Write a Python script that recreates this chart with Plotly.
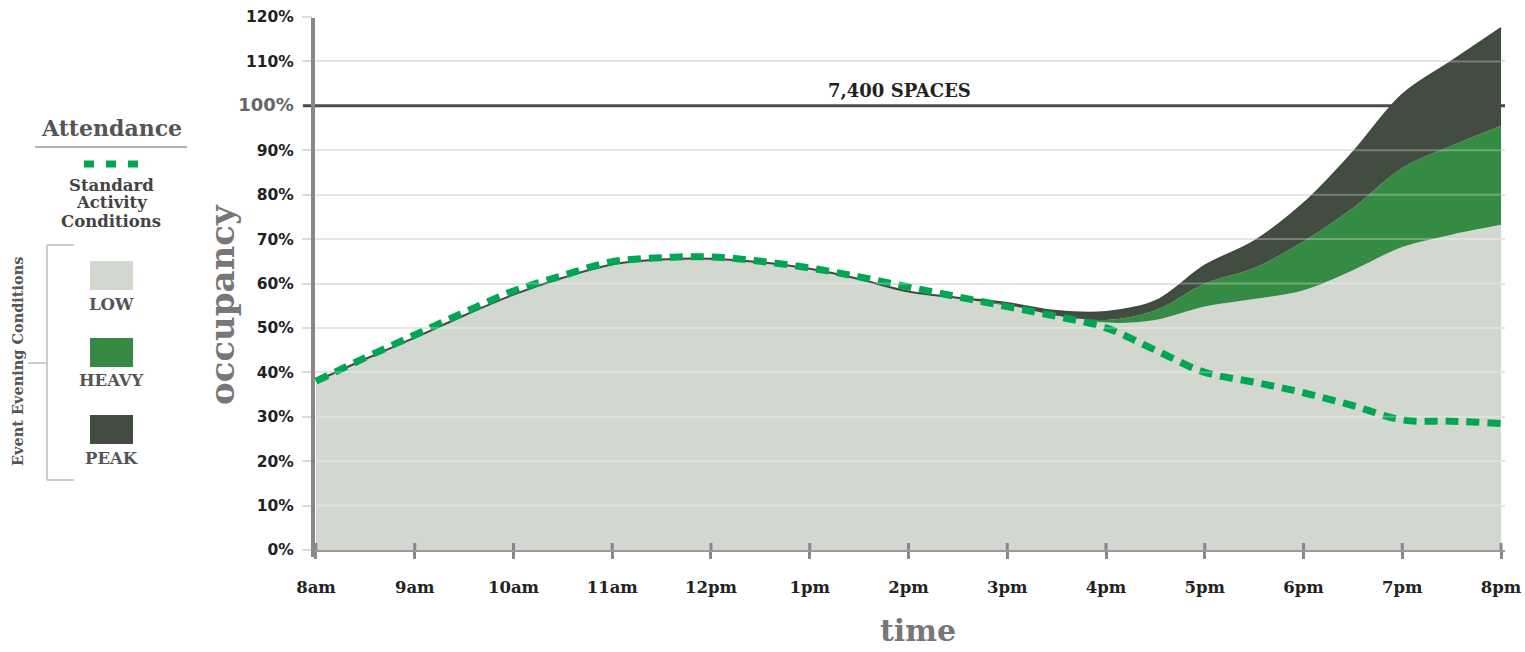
import plotly.graph_objects as go

# ---------------- data ----------------
hours = [8, 8.5, 9, 9.5, 10, 10.5, 11, 11.5, 12, 12.5, 13, 13.5, 14,
         14.5, 15, 15.5, 16, 16.5, 17, 17.5, 18, 18.5, 19, 19.5, 20]
low = [38, 43, 47.8, 52.8, 57.5, 61.3, 64.3, 65.4, 65.6, 64.8, 63.3, 61, 58.2,
       56.6, 55, 53.2, 51.2, 51.8, 54.8, 56.5, 58.5, 63, 68.2, 71, 73.2]
heavy = [38, 43, 47.8, 52.8, 57.5, 61.3, 64.3, 65.4, 65.6, 64.8, 63.3, 61, 58.2,
         56.6, 55.2, 52.8, 51.8, 54, 60, 63.5, 69.5, 77, 86, 91, 95.5]
peak = [38, 43, 47.8, 52.8, 57.5, 61.3, 64.3, 65.4, 65.6, 64.8, 63.3, 61, 58.2,
        56.8, 55.6, 53.8, 53.6, 56, 64, 69.5, 78, 89.5, 102.5, 110, 117.5]
standard = [38, 43.3, 48.4, 53.5, 58.3, 61.8, 64.9, 65.8, 66, 65, 63.5, 61.5, 59.2,
            57, 54.8, 52.6, 50, 45, 40, 37.8, 35.4, 32.5, 29.3, 29, 28.5]

tick_hours = [8, 9, 10, 11, 12, 13, 14, 15, 16, 17, 18, 19, 20]
tick_labels = ["8am", "9am", "10am", "11am", "12pm", "1pm", "2pm", "3pm",
               "4pm", "5pm", "6pm", "7pm", "8pm"]
y_ticks = [0, 10, 20, 30, 40, 50, 60, 70, 80, 90, 100, 110, 120]
capacity_pct = 100
capacity_label = "7,400 SPACES"

# ---------------- styling ----------------
C_LOW = "#d2d8cf"
C_HEAVY = "#358a44"
C_PEAK = "#424c41"
C_STD = "#00a651"
FONT = "DejaVu Serif"
SANS = "DejaVu Sans"

FW, FH = 1525, 652
L, T, W, H = 313, 17, 1192, 533


def px(x):
    return (x - L) / W


def py(y):
    return (T + H - y) / H


y_tick_text = []
for v in y_ticks:
    if v == capacity_pct:
        y_tick_text.append('<span style="color:#666;font-size:18px">%d%%</span>' % v)
    else:
        y_tick_text.append("%d%%" % v)

fig = go.Figure()
fig.add_trace(go.Scatter(x=hours, y=low, mode="lines", fill="tozeroy",
                         fillcolor=C_LOW, line=dict(width=0, shape="spline", color=C_LOW),
                         hoverinfo="skip", showlegend=False))
fig.add_trace(go.Scatter(x=hours, y=heavy, mode="lines", fill="tonexty",
                         fillcolor=C_HEAVY, line=dict(width=0, shape="spline", color=C_HEAVY),
                         hoverinfo="skip", showlegend=False))
fig.add_trace(go.Scatter(x=hours, y=peak, mode="lines", fill="tonexty",
                         fillcolor=C_PEAK, line=dict(width=2, shape="spline", color="#3e4a3e"),
                         hoverinfo="skip", showlegend=False))
fig.add_trace(go.Scatter(x=hours, y=standard, mode="lines",
                         line=dict(width=7, shape="spline", color=C_STD, dash="13px,8px"),
                         hoverinfo="skip", showlegend=False))

shapes = []
# faint gridlines over fills
for v in y_ticks[1:]:
    if v != capacity_pct:
        shapes.append(dict(type="line", xref="paper", yref="y", x0=0, x1=1, y0=v, y1=v,
                           line=dict(color="rgba(255,255,255,0.28)", width=2), layer="above"))
# capacity line
shapes.append(dict(type="line", xref="paper", yref="y", x0=px(303), x1=1,
                   y0=capacity_pct, y1=capacity_pct,
                   line=dict(color="#4a4a4a", width=3), layer="above"))
# y axis line
shapes.append(dict(type="line", xref="paper", yref="paper", x0=0, x1=0,
                   y0=py(557), y1=py(18), line=dict(color="#888888", width=4), layer="above"))
# inner part of x ticks
for h in tick_hours:
    shapes.append(dict(type="line", xref="x", yref="paper", x0=h, x1=h,
                       y0=0, y1=7 / H, line=dict(color="#888888", width=3), layer="above"))

# legend: underline, dashed sample, bracket, swatches
shapes.append(dict(type="line", xref="paper", yref="paper", x0=px(35), x1=px(187),
                   y0=py(147), y1=py(147), line=dict(color="#666666", width=1)))
shapes.append(dict(type="line", xref="paper", yref="paper", x0=px(84), x1=px(139),
                   y0=py(164), y1=py(164), line=dict(color=C_STD, width=7, dash="10px,12px")))
bracket = "#cccccc"
shapes.append(dict(type="line", xref="paper", yref="paper", x0=px(47), x1=px(47),
                   y0=py(245), y1=py(480), line=dict(color=bracket, width=2)))
shapes.append(dict(type="line", xref="paper", yref="paper", x0=px(47), x1=px(74),
                   y0=py(245), y1=py(245), line=dict(color=bracket, width=2)))
shapes.append(dict(type="line", xref="paper", yref="paper", x0=px(47), x1=px(74),
                   y0=py(480), y1=py(480), line=dict(color=bracket, width=2)))
shapes.append(dict(type="line", xref="paper", yref="paper", x0=px(28), x1=px(47),
                   y0=py(363), y1=py(363), line=dict(color=bracket, width=2)))
for top, col in [(261, C_LOW), (338, C_HEAVY), (415, C_PEAK)]:
    shapes.append(dict(type="rect", xref="paper", yref="paper", x0=px(90), x1=px(133),
                       y0=py(top + 29), y1=py(top), fillcolor=col, line=dict(width=0)))


def label(x, y, text, size, color, angle=0):
    return dict(xref="paper", yref="paper", x=px(x), y=py(y), xanchor="center",
                yanchor="middle", text=text, showarrow=False, textangle=angle,
                font=dict(family=FONT, size=size, color=color, weight="bold"))


annotations = [
    dict(xref="paper", yref="y", x=px(899), y=capacity_pct, xanchor="center",
         yanchor="bottom", yshift=3, text=capacity_label, showarrow=False,
         font=dict(family=FONT, size=18, color="#222222", weight="bold")),
    label(111, 128, "Attendance", 22, "#555555"),
    label(111, 185, "Standard", 16.5, "#444444"),
    label(111, 203, "Activity", 16.5, "#444444"),
    label(111, 221, "Conditions", 16.5, "#444444"),
    label(17, 362, "Event Evening Conditions", 14.5, "#555555", -90),
    label(111, 304, "LOW", 16.5, "#555555"),
    label(111, 381, "HEAVY", 16.5, "#555555"),
    label(111, 458, "PEAK", 16.5, "#555555"),
    label(222, 305, "occupancy", 34, "#777777", -90),
    label(918, 630, "time", 30, "#777777"),
]

fig.update_layout(
    width=FW, height=FH,
    margin=dict(l=L, r=FW - L - W, t=T, b=FH - T - H, autoexpand=False),
    paper_bgcolor="white", plot_bgcolor="white",
    xaxis=dict(range=[7.97, 20.04], tickvals=tick_hours, ticktext=tick_labels,
               ticks="outside", ticklen=7, tickwidth=3, tickcolor="#888888",
               showline=True, linecolor="#9a9a9a", linewidth=2, showgrid=False,
               zeroline=False, ticklabelstandoff=14, automargin=False,
               ticklabeloverflow="allow",
               tickfont=dict(family=FONT, size=16.5, color="#222222", weight="bold")),
    yaxis=dict(range=[0, 120], tickvals=y_ticks, ticktext=y_tick_text,
               ticks="outside", ticklen=10, tickwidth=2, tickcolor="#dddddd",
               showgrid=True, gridcolor="#dddddd", gridwidth=2, showline=False,
               zeroline=False, ticklabelstandoff=5, automargin=False,
               ticklabeloverflow="allow",
               tickfont=dict(family=SANS, size=15.5, color="#222222", weight="bold")),
    shapes=shapes,
    annotations=annotations,
    showlegend=False,
)

fig.write_html("out.html", config={"displayModeBar": False},
               post_script="document.body.style.margin='0';"
                           "document.body.style.overflow='hidden';")
